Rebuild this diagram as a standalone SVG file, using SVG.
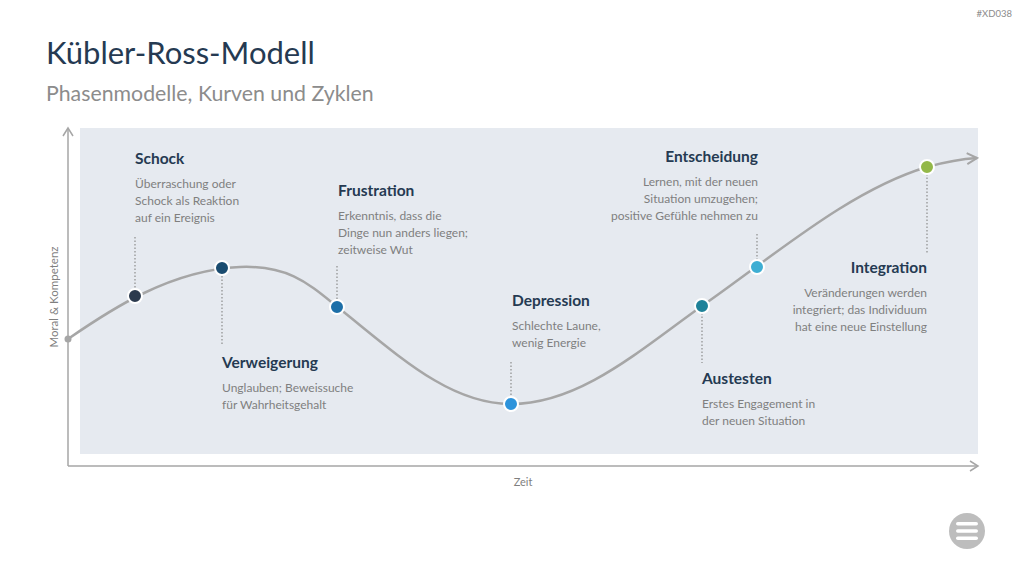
<svg xmlns="http://www.w3.org/2000/svg" width="1024" height="576" viewBox="0 0 1024 576">
<defs>
<marker id="arr" viewBox="0 0 12 12" refX="10" refY="6" markerWidth="12" markerHeight="12" markerUnits="userSpaceOnUse" orient="auto">
<path d="M2,1 L10,6 L2,11" fill="none" stroke="#A6A6A6" stroke-width="1.5"/>
</marker>
<marker id="arrC" viewBox="0 0 14 14" refX="12" refY="7" markerWidth="14" markerHeight="14" markerUnits="userSpaceOnUse" orient="auto">
<path d="M2,1.5 L12,7 L2,12.5" fill="none" stroke="#A6A6A6" stroke-width="2"/>
</marker>
</defs>
<style>
text{font-family:Lato,"Open Sans","Liberation Sans",sans-serif}
.h{font-size:15.5px;font-weight:bold;fill:#253A52}
.d{font-size:12px;fill:#7F7F7F}
.r{text-anchor:end}
.dot{stroke:#FFFFFF;stroke-width:2}
.lead{stroke:#8C8C8C;stroke-width:1.2;stroke-dasharray:1.5 2;fill:none}
.ax{stroke:#A6A6A6;stroke-width:1.5;fill:none}
</style>
<rect width="1024" height="576" fill="#FFFFFF"/>
<text x="1012" y="17" class="r" style="font-size:9.5px;fill:#8C8C8C">#XD038</text>
<text x="46" y="64" style="font-size:31px;fill:#253A52">Kübler-Ross-Modell</text>
<text x="46" y="101" style="font-size:21.3px;fill:#8C8C8C">Phasenmodelle, Kurven und Zyklen</text>
<rect x="80" y="128" width="898" height="326" fill="#E6EAF0"/>
<g id="axes">
<path class="ax" d="M68,466 L68,128" marker-end="url(#arr)"/>
<path class="ax" d="M68,466 L978,466" marker-end="url(#arr)"/>
<text x="523" y="486" text-anchor="middle" style="font-size:11px;fill:#7F7F7F">Zeit</text>
<text transform="translate(58,297) rotate(-90)" text-anchor="middle" style="font-size:11.5px;fill:#7F7F7F">Moral &amp; Kompetenz</text>
</g>
<g id="connectors">
<path d="M68,339 C110,310 170,270 240,267 C290,265 310,285 340,309 C400,357 450,404 511,404 C580,404 640,350 702,306 C775,255 850,190 927,167 C945,162 960,159 977,158" fill="none" stroke="#A6A6A6" stroke-width="2.5" marker-end="url(#arrC)"/>
<circle cx="68" cy="339" r="3.5" fill="#A6A6A6"/>
<path class="lead" d="M135,237 L135,289"/>
<path class="lead" d="M222,276 L222,346"/>
<path class="lead" d="M337,266 L337,300"/>
<path class="lead" d="M511,362 L511,397"/>
<path class="lead" d="M702,313 L702,363"/>
<path class="lead" d="M757,234 L757,260"/>
<path class="lead" d="M927,174 L927,253"/>
</g>
<g id="schock">
<circle class="dot" cx="135" cy="296" r="7" fill="#2B3A4E"/>
<text x="135" y="164" class="h">Schock</text>
<text x="135" y="188" class="d">Überraschung oder</text>
<text x="135" y="205" class="d">Schock als Reaktion</text>
<text x="135" y="222" class="d">auf ein Ereignis</text>
</g>
<g id="verweigerung">
<circle class="dot" cx="222" cy="268" r="7" fill="#1A4C70"/>
<text x="222" y="368" class="h">Verweigerung</text>
<text x="222" y="392" class="d">Unglauben; Beweissuche</text>
<text x="222" y="409" class="d">für Wahrheitsgehalt</text>
</g>
<g id="frustration">
<circle class="dot" cx="337" cy="307" r="7" fill="#1D6FA8"/>
<text x="338" y="196" class="h">Frustration</text>
<text x="338" y="220" class="d">Erkenntnis, dass die</text>
<text x="338" y="237" class="d">Dinge nun anders liegen;</text>
<text x="338" y="254" class="d">zeitweise Wut</text>
</g>
<g id="depression">
<circle class="dot" cx="511" cy="404" r="7" fill="#2D93DB"/>
<text x="512" y="306" class="h">Depression</text>
<text x="512" y="330" class="d">Schlechte Laune,</text>
<text x="512" y="347" class="d">wenig Energie</text>
</g>
<g id="austesten">
<circle class="dot" cx="702" cy="306" r="7" fill="#1F8299"/>
<text x="702" y="384" class="h">Austesten</text>
<text x="702" y="408" class="d">Erstes Engagement in</text>
<text x="702" y="425" class="d">der neuen Situation</text>
</g>
<g id="entscheidung">
<circle class="dot" cx="757" cy="267" r="7" fill="#3EAED3"/>
<text x="758" y="162" class="h r">Entscheidung</text>
<text x="758" y="186" class="d r">Lernen, mit der neuen</text>
<text x="758" y="203" class="d r">Situation umzugehen;</text>
<text x="758" y="220" class="d r">positive Gefühle nehmen zu</text>
</g>
<g id="integration">
<circle class="dot" cx="927" cy="167" r="7" fill="#93B848"/>
<text x="927" y="273" class="h r">Integration</text>
<text x="927" y="297" class="d r">Veränderungen werden</text>
<text x="927" y="314" class="d r">integriert; das Individuum</text>
<text x="927" y="331" class="d r">hat eine neue Einstellung</text>
</g>
<g id="menu">
<circle cx="967" cy="531" r="18" fill="#BDBDBD"/>
<rect x="956" y="522" width="22" height="3.5" rx="1.75" fill="#FFFFFF"/>
<rect x="956" y="529.3" width="22" height="3.5" rx="1.75" fill="#FFFFFF"/>
<rect x="956" y="536.5" width="22" height="3.5" rx="1.75" fill="#FFFFFF"/>
</g>
</svg>
